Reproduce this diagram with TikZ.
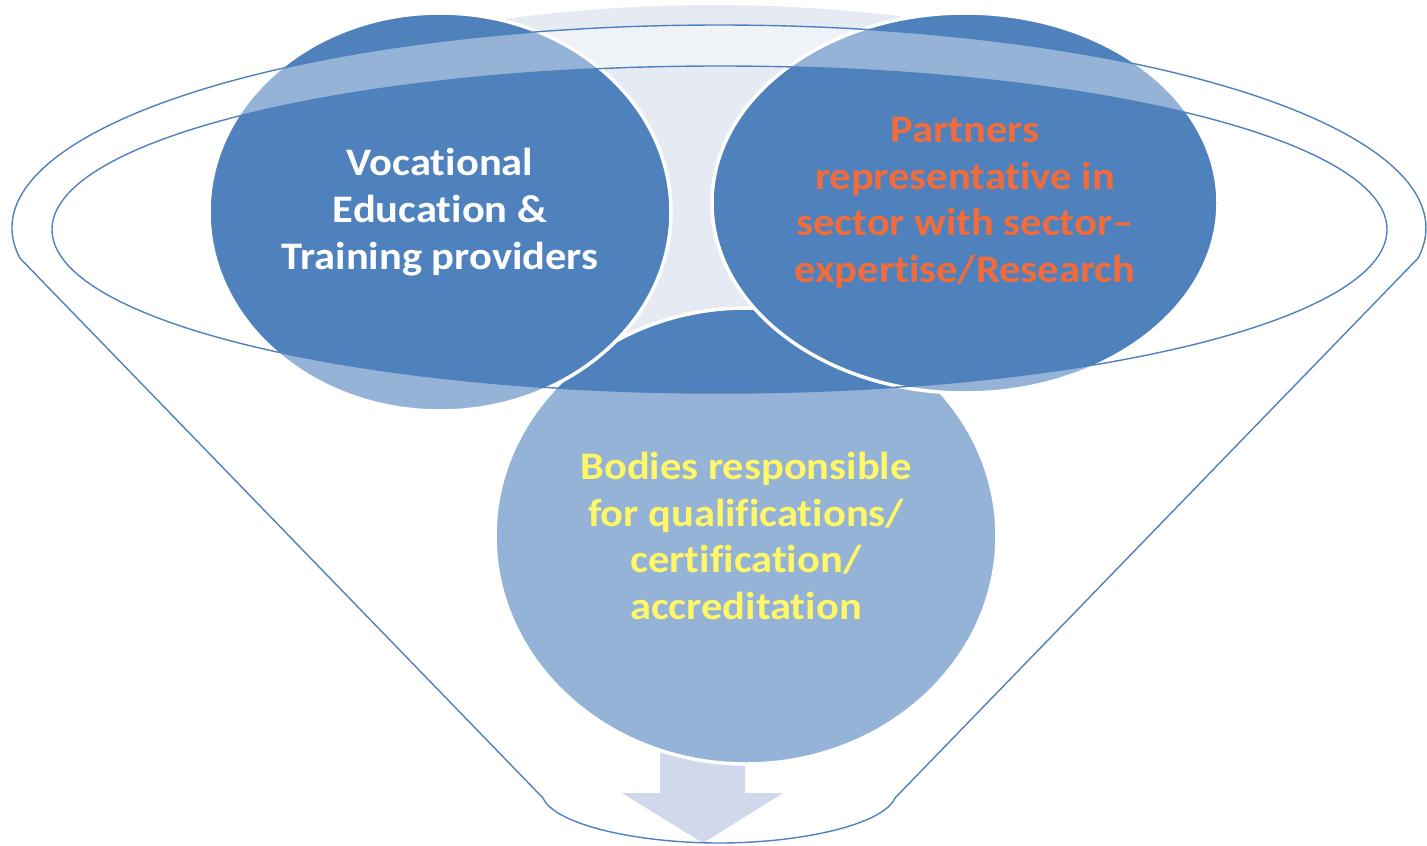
\documentclass[tikz,border=0pt]{standalone}
\usepackage{fontspec}
\setmainfont{Carlito}[Ligatures=NoCommon, FakeStretch=1.09]
\usetikzlibrary{shapes.geometric}
\definecolor{dk}{HTML}{4F81BD}
\definecolor{pale}{HTML}{E5EAF3}
\definecolor{arr}{RGB}{175,193,222}
\definecolor{org}{HTML}{F26C3B}
\begin{document}
\begin{tikzpicture}[x=1pt,y=1pt,
  bubble/.style={ellipse, fill=dk, draw=white, line width=3.5pt, inner sep=0pt,
    align=center, font=\fontsize{39}{46.7}\selectfont\bfseries},
  rim/.style={draw=dk, line width=1.4pt},
  veil/.style={fill=white, fill opacity=0.4, even odd rule}]
\useasboundingbox (0,0) rectangle (1427,-846);
% faded fourth circle
\fill[pale] (470,-24) .. controls (632,1.3) and (794,1.3) .. (956,-24)
  -- (820,-250) -- (800,-340) -- (610,-340) -- (600,-250) -- cycle;
% down arrow
\fill[arr] (660,-730) -- (745,-730) -- (745,-793) -- (783,-793) -- (703,-843)
  -- (622,-793) -- (660,-793) -- cycle;
% circles
\node[bubble, minimum width=502pt, minimum height=456pt, text=yellow] (bod) at (746,-536)
  {Bodies responsible\\for qualifications/\\certification/\\accreditation};
\node[bubble, minimum width=462pt, minimum height=398pt, text=white] (voc) at (440,-212)
  {Vocational\\Education \&\\Training providers};
\node[bubble, minimum width=506pt, minimum height=380pt, text=org] (par) at (965,-203)
  {Partners\\representative in\\sector with sector–\\expertise/Research};
% funnel
\coordinate (fl) at ([shift={(719,-228)}]188.5:707pt and 203pt);
\coordinate (br) at (895,-798);
\coordinate (bm) at (719,-843);
\coordinate (bl) at (543,-798);
\coordinate (ic) at (719.5,-229.5);
\fill[veil] (fl) arc[start angle=188.5, end angle=-8.5, x radius=707pt, y radius=203pt]
  -- (br) .. controls (883,-825) and (800,-843) .. (bm)
  .. controls (638,-843) and (555,-825) .. (bl) -- cycle
  (ic) ellipse[x radius=667.5pt, y radius=163.5pt];
\draw[rim] (fl) arc[start angle=188.5, end angle=-8.5, x radius=707pt, y radius=203pt]
  -- (br) .. controls (883,-825) and (800,-843) .. (bm)
  .. controls (638,-843) and (555,-825) .. (bl) -- cycle;
\draw[rim] (ic) ellipse[x radius=667.5pt, y radius=163.5pt];
\end{tikzpicture}
\end{document}
